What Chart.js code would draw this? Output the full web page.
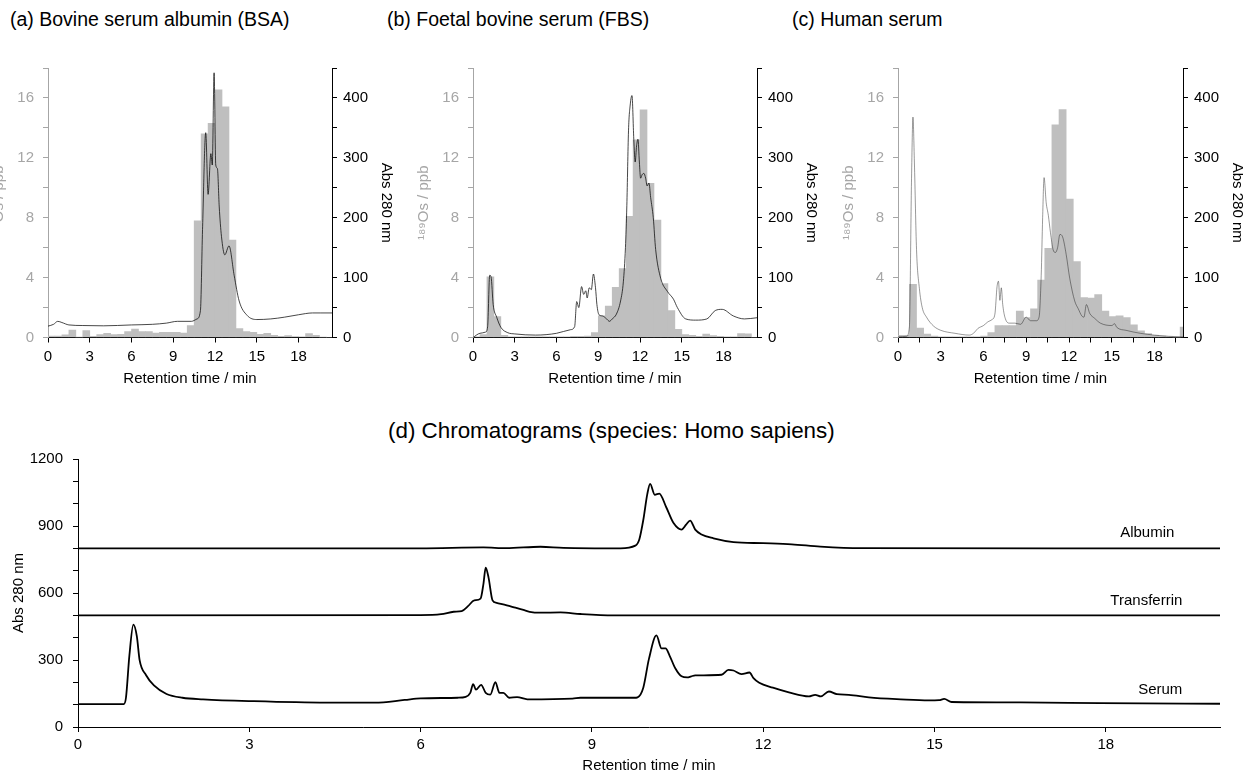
<!DOCTYPE html>
<html>
<head>
<meta charset="utf-8">
<script src="https://cdn.jsdelivr.net/npm/chart.js@4.4.0/dist/chart.umd.min.js"></script>
<style>
  body { margin: 0; width: 1243px; height: 776px; overflow: hidden; background: #fff; position: relative;
         font-family: 'Liberation Sans', Arial, Helvetica, sans-serif; }
  .ptitle { position: absolute; font-size: 19.5px; line-height: 22px; color: #000; white-space: nowrap; }
  canvas { position: absolute; }
</style>
</head>
<body>
<div class="ptitle" style="left:10px; top:8px">(a) Bovine serum albumin (BSA)</div>
<div class="ptitle" style="left:387px; top:8px">(b) Foetal bovine serum (FBS)</div>
<div class="ptitle" style="left:792px; top:8px">(c) Human serum</div>
<div class="ptitle" style="left:388px; top:418px; font-size:22.4px; line-height:26px">(d) Chromatograms (species: Homo sapiens)</div>

<canvas id="chartA" width="424" height="345" style="left:-22px; top:50px"></canvas>
<canvas id="chartB" width="424" height="345" style="left:403px; top:50px"></canvas>
<canvas id="chartC" width="425" height="345" style="left:828px; top:50px"></canvas>
<canvas id="chartD" width="1243" height="336" style="left:0px; top:440px"></canvas>

<script>
// --- 189Os fractions (0.5 min bins, bin centres in min) ---
const binsA = [0.25, 0.75, 1.25, 1.75, 2.25, 2.75, 3.25, 3.75, 4.25, 4.75, 5.25, 5.75, 6.25, 6.75, 7.25, 7.75, 8.25, 8.75, 9.25, 9.75,
               10.25, 10.75, 11.25, 11.75, 12.25, 12.75, 13.25, 13.75, 14.25, 14.75, 15.25, 15.75, 16.25, 16.75, 17.25, 17.75, 18.25, 18.75, 19.25, 19.75, 20.25];
const osA = [0.1, 0.1, 0.17, 0.5, 0.02, 0.47, 0.07, 0.2, 0.28, 0.2, 0.22, 0.4, 0.57, 0.4, 0.4, 0.3, 0.35, 0.35, 0.35, 0.3,
             0.8, 7.8, 13.6, 14.3, 16.55, 15.4, 6.5, 0.6, 0.4, 0.35, 0.22, 0.28, 0.15, 0.07, 0.13, 0.06, 0.04, 0.26, 0.15, 0.02, 0];

const binsB = [0.25, 0.75, 1.25, 1.75, 2.25, 2.75, 3.25, 3.75, 4.25, 4.75, 5.25, 5.75, 6.25, 6.75, 7.25, 7.75, 8.25, 8.75, 9.25, 9.75,
               10.25, 10.75, 11.25, 11.75, 12.25, 12.75, 13.25, 13.75, 14.25, 14.75, 15.25, 15.75, 16.25, 16.75, 17.25, 17.75, 18.25, 18.75, 19.25, 19.75, 20.25];
const osB = [0.05, 0.2, 4.05, 1.4, 0.15, 0.05, 0.04, 0.04, 0.04, 0.04, 0.04, 0.04, 0.05, 0.05, 0.07, 0.07, 0.1, 0.33, 1.45, 2.1,
             3.35, 4.6, 8.1, 13.2, 15.2, 10.3, 7.85, 3.6, 1.8, 0.55, 0.2, 0.15, 0.07, 0.23, 0.12, 0.07, 0.05, 0.05, 0.27, 0.25, 0];

const binsC = [0.05, 0.55, 1.05, 1.55, 2.05, 2.55, 3.05, 3.55, 4.05, 4.55, 5.05, 5.55, 6.05, 6.55, 7.05, 7.55, 8.05, 8.55, 9.05, 9.55,
               10.05, 10.55, 11.05, 11.55, 12.05, 12.55, 13.05, 13.55, 14.05, 14.55, 15.05, 15.55, 16.05, 16.55, 17.05, 17.55, 18.05, 18.55, 19.05, 19.55, 20.05];
const osC = [0.15, 0.15, 3.55, 0.63, 0.23, 0.1, 0.05, 0.05, 0.04, 0.04, 0.04, 0.05, 0.1, 0.33, 0.8, 0.8, 0.8, 1.76, 1.33, 1.92,
             3.84, 5.95, 14.2, 15.22, 9.24, 5.07, 2.67, 2.63, 2.86, 1.76, 1.39, 1.44, 1.33, 0.84, 0.44, 0.27, 0.14, 0.1, 0.05, 0.03, 0.7];

// --- UV traces, Abs 280 nm ---
const timeA = [0, 0.4, 0.7, 1.0, 1.5, 2.5, 4, 6, 7.5, 8.5, 9.3, 10.3, 10.7, 10.95, 11.1, 11.33, 11.5, 11.7, 11.8, 11.93, 12.05, 12.17,
               12.3, 12.46, 12.7, 13.0, 13.37, 13.73, 14.3, 15.0, 16, 17, 18, 19, 19.6, 20.4];
const absA = [19, 22, 27, 25, 21, 20, 19.5, 21, 22, 24, 27, 27, 31, 45, 180, 342, 239, 307, 288, 442, 288, 282,
              218, 169, 138, 153, 104, 61, 37, 30, 31, 34, 38, 41, 41, 41];

const timeB = [0, 0.5, 0.9, 1.05, 1.2, 1.3, 1.45, 1.7, 2.0, 2.5, 3, 4.5, 6, 7, 7.3, 7.45, 7.6, 7.8, 7.95, 8.1, 8.2, 8.35, 8.5, 8.65,
               8.8, 8.9, 9.05, 9.3, 9.6, 9.8, 10.0, 10.3, 10.6, 10.8, 10.95, 11.05, 11.17, 11.3, 11.42, 11.55, 11.65, 11.75, 11.85,
               11.95, 12.04, 12.15, 12.28, 12.4, 12.51, 12.64, 12.76, 12.95, 13.12, 13.48, 13.96, 14.4, 14.68, 15.28, 16.0, 16.8,
               17.4, 17.9, 18.7, 19.5, 20.4];
const absB = [0, 7, 9, 18, 104, 101, 55, 34, 17, 8, 6, 4, 7, 13, 18, 60, 50, 85, 72, 78, 66, 83, 80, 106,
              83, 55, 38, 36, 31, 27, 31, 39, 61, 93, 150, 220, 345, 390, 404, 331, 293, 320, 331,
              293, 266, 272, 274, 266, 253, 258, 234, 200, 147, 99, 77, 64, 50, 31, 29, 31,
              45, 47, 36, 31, 33];

const timeC = [0, 0.6, 0.8, 0.95, 1.05, 1.15, 1.3, 1.5, 1.7, 2.0, 2.5, 3, 4, 5, 5.3, 5.6, 6.0, 6.3, 6.6, 6.8, 6.95, 7.05, 7.15,
               7.25, 7.35, 7.5, 7.8, 8.2, 8.6, 9.0, 9.3, 9.7, 9.9, 10.05, 10.15, 10.25, 10.4, 10.55, 10.7, 10.88, 11.05, 11.2,
               11.36, 11.55, 11.8, 12.05, 12.4, 12.65, 12.9, 13.05, 13.22, 13.46, 13.8, 14.2, 15.0, 15.2, 15.35, 16, 17, 18, 19, 20];
const absC = [1, 2, 18, 266, 368, 293, 147, 82, 50, 34, 19, 12, 7, 4, 7, 15, 20, 26, 30, 39, 85, 94, 62,
              83, 55, 34, 24, 24, 22, 34, 28, 28, 34, 104, 200, 267, 225, 204, 175, 147, 142, 150,
              172, 168, 139, 99, 61, 48, 36, 34, 55, 40, 32, 24, 20, 23, 17, 12, 7, 4, 2, 1];

// --- (d) chromatograms of the standards and serum ---
const timeAlb = [0, 6, 7.1, 7.5, 8.1, 8.5, 9.5, 9.76, 9.83, 9.9, 9.97, 10.02, 10.1, 10.18, 10.3, 10.43, 10.57, 10.65, 10.72, 10.81,
                 10.92, 11.13, 11.48, 12.0, 12.5, 13.0, 13.71, 20];
const absAlb = [800, 800, 804, 801, 807, 802, 800, 812, 840, 927, 1043, 1089, 1040, 1045, 985, 913, 884, 906, 924, 884,
                862, 845, 828, 823, 818, 808, 801, 800];

const timeTf = [0, 6, 6.36, 6.58, 6.72, 6.83, 6.94, 7.05, 7.1, 7.14, 7.19, 7.26, 7.33, 7.51, 7.66, 7.8, 7.91, 8.09, 8.45, 8.8, 9.38, 20];
const absTf = [500, 501, 505, 516, 519, 541, 567, 575, 640, 713, 669, 567, 556, 545, 534, 524, 516, 512, 513, 506, 500, 500];

const timeSer = [0, 0.8, 0.84, 0.9, 0.97, 1.03, 1.08, 1.19, 1.33, 1.55, 1.83, 2.19, 3.0, 4.35, 5.2, 5.72, 6.0, 6.65, 6.79, 6.87,
                 6.92, 6.97, 7.06, 7.14, 7.22, 7.31, 7.38, 7.45, 7.55, 7.69, 7.87, 8.66, 8.8, 9.74, 9.8, 9.9, 10.0, 10.13, 10.22,
                 10.29, 10.36, 10.46, 10.57, 10.67, 10.74, 10.81, 11.27, 11.39, 11.48, 11.62, 11.76, 11.83, 11.93, 12.17, 12.45,
                 12.8, 12.91, 13.01, 13.15, 13.29, 13.5, 13.85, 14.41, 14.9, 15.08, 15.17, 15.3, 16.51, 17.9, 20];
const absSer = [102, 102, 131, 320, 458, 407, 298, 233, 186, 148, 131, 124, 116, 109, 109, 121, 128, 131, 135, 153,
                192, 167, 189, 153, 145, 201, 153, 153, 131, 134, 124, 127, 131, 131, 133, 176, 306, 410, 352,
                352, 320, 263, 227, 222, 227, 231, 234, 256, 253, 237, 244, 219, 198, 176, 155,
                137, 144, 137, 159, 147, 144, 133, 124, 119, 120, 126, 112, 110, 107, 104];

const traceNames = ['Albumin', 'Transferrin', 'Serum'];
const labelTime = [19.2, 19.34, 19.34];
const labelLevel = [869, 566, 165];

Chart.defaults.font.family = "'Liberation Sans', Arial, Helvetica, sans-serif";
Chart.defaults.font.size = 15;
Chart.defaults.color = '#000';
Chart.defaults.animation = false;

const OS_GREY = '#a6a6a6';
const BAR_GREY = '#bfbfbf';

function pts(xs, ys) {
    return xs.map(function(x, i) { return {x: x, y: ys[i]}; });
}

function makeOsChart(id, bins, os, times, abs, xMax, xStep, lineColor) {
    return new Chart(id, {
        type: 'bar',
        data: {
            datasets: [
                { type: 'line', data: pts(times, abs), yAxisID: 'abs', borderColor: lineColor, borderWidth: 1,
                  pointRadius: 0, cubicInterpolationMode: 'monotone', order: 0 },
                { type: 'bar', data: pts(bins, os), yAxisID: 'os', backgroundColor: BAR_GREY, borderWidth: 0,
                  barPercentage: 1, categoryPercentage: 1, order: 1 }
            ]
        },
        options: {
            responsive: false,
            layout: { padding: { top: 10 } },
            plugins: { legend: { display: false }, tooltip: { enabled: false } },
            scales: {
                x: {
                    type: 'linear', min: 0, max: xMax, offset: false,
                    border: { color: '#000' },
                    grid: { drawOnChartArea: false, offset: false, color: '#000', tickLength: 5 },
                    ticks: { stepSize: xStep, autoSkip: false, maxRotation: 0, padding: 5, includeBounds: false,
                             callback: function(v) { return v % 3 === 0 ? v : ''; } },
                    title: { display: true, text: 'Retention time / min', padding: { top: 0, bottom: 7 } },
                    afterFit: function(s) { s.height = 57.5; }
                },
                os: {
                    position: 'left', min: 0, max: 18,
                    border: { color: OS_GREY },
                    grid: { drawOnChartArea: false, color: OS_GREY, tickLength: 5 },
                    ticks: { stepSize: 2, autoSkip: false, color: OS_GREY, padding: 9,
                             callback: function(v) { return v % 4 === 0 ? v : ''; } },
                    title: { display: true, text: '¹⁸⁹Os / ppb', color: OS_GREY, padding: { top: 12, bottom: 0 } },
                    afterFit: function(s) { s.width = 70; }
                },
                abs: {
                    position: 'right', min: 0, max: 450,
                    border: { color: '#000' },
                    grid: { drawOnChartArea: false, color: '#000', tickLength: 5 },
                    ticks: { stepSize: 50, autoSkip: false, padding: 6,
                             callback: function(v) { return v % 100 === 0 ? v : ''; } },
                    title: { display: true, text: 'Abs 280 nm', padding: { top: 7, bottom: 0 } },
                    afterFit: function(s) { s.width = 70; }
                }
            }
        }
    });
}

makeOsChart('chartA', binsA, osA, timeA, absA, 20.4, 3, 'rgba(0,0,0,0.72)');
makeOsChart('chartB', binsB, osB, timeB, absB, 20.4, 3, 'rgba(0,0,0,0.72)');
makeOsChart('chartC', binsC, osC, timeC, absC, 20, 1.5, 'rgba(0,0,0,0.4)');

// names written at the right end of each trace
const traceLabels = {
    id: 'traceLabels',
    afterDatasetsDraw: function(chart) {
        const ctx = chart.ctx, xs = chart.scales.x, ys = chart.scales.y;
        ctx.save();
        ctx.font = "15px 'Liberation Sans', Arial, sans-serif";
        ctx.fillStyle = '#000';
        ctx.textAlign = 'right';
        ctx.textBaseline = 'middle';
        traceNames.forEach(function(name, i) {
            ctx.fillText(name, xs.getPixelForValue(labelTime[i]), ys.getPixelForValue(labelLevel[i]));
        });
        ctx.restore();
    }
};

function trace(times, abs) {
    return { data: pts(times, abs), borderColor: '#000', borderWidth: 1.8, pointRadius: 0, cubicInterpolationMode: 'monotone' };
}

new Chart('chartD', {
    type: 'line',
    data: { datasets: [trace(timeAlb, absAlb), trace(timeTf, absTf), trace(timeSer, absSer)] },
    options: {
        responsive: false,
        layout: { padding: { top: 12, right: 23 } },
        plugins: { legend: { display: false }, tooltip: { enabled: false } },
        scales: {
            x: {
                type: 'linear', min: 0, max: 20,
                border: { color: '#000' },
                grid: { drawOnChartArea: false, color: '#000', tickLength: 5 },
                ticks: { stepSize: 3, autoSkip: false, maxRotation: 0, padding: 4, includeBounds: false },
                title: { display: true, text: 'Retention time / min', padding: { top: 0, bottom: 1 } },
                afterFit: function(s) { s.height = 49; }
            },
            y: {
                min: 0, max: 1200,
                border: { color: '#000' },
                grid: { drawOnChartArea: false, color: '#000', tickLength: 5 },
                ticks: { stepSize: 100, autoSkip: false, padding: 10,
                         callback: function(v) { return v % 300 === 0 ? v : ''; } },
                title: { display: true, text: 'Abs 280 nm', padding: { top: 10, bottom: 0 } },
                afterFit: function(s) { s.width = 78; }
            }
        }
    },
    plugins: [traceLabels]
});
</script>
</body>
</html>
